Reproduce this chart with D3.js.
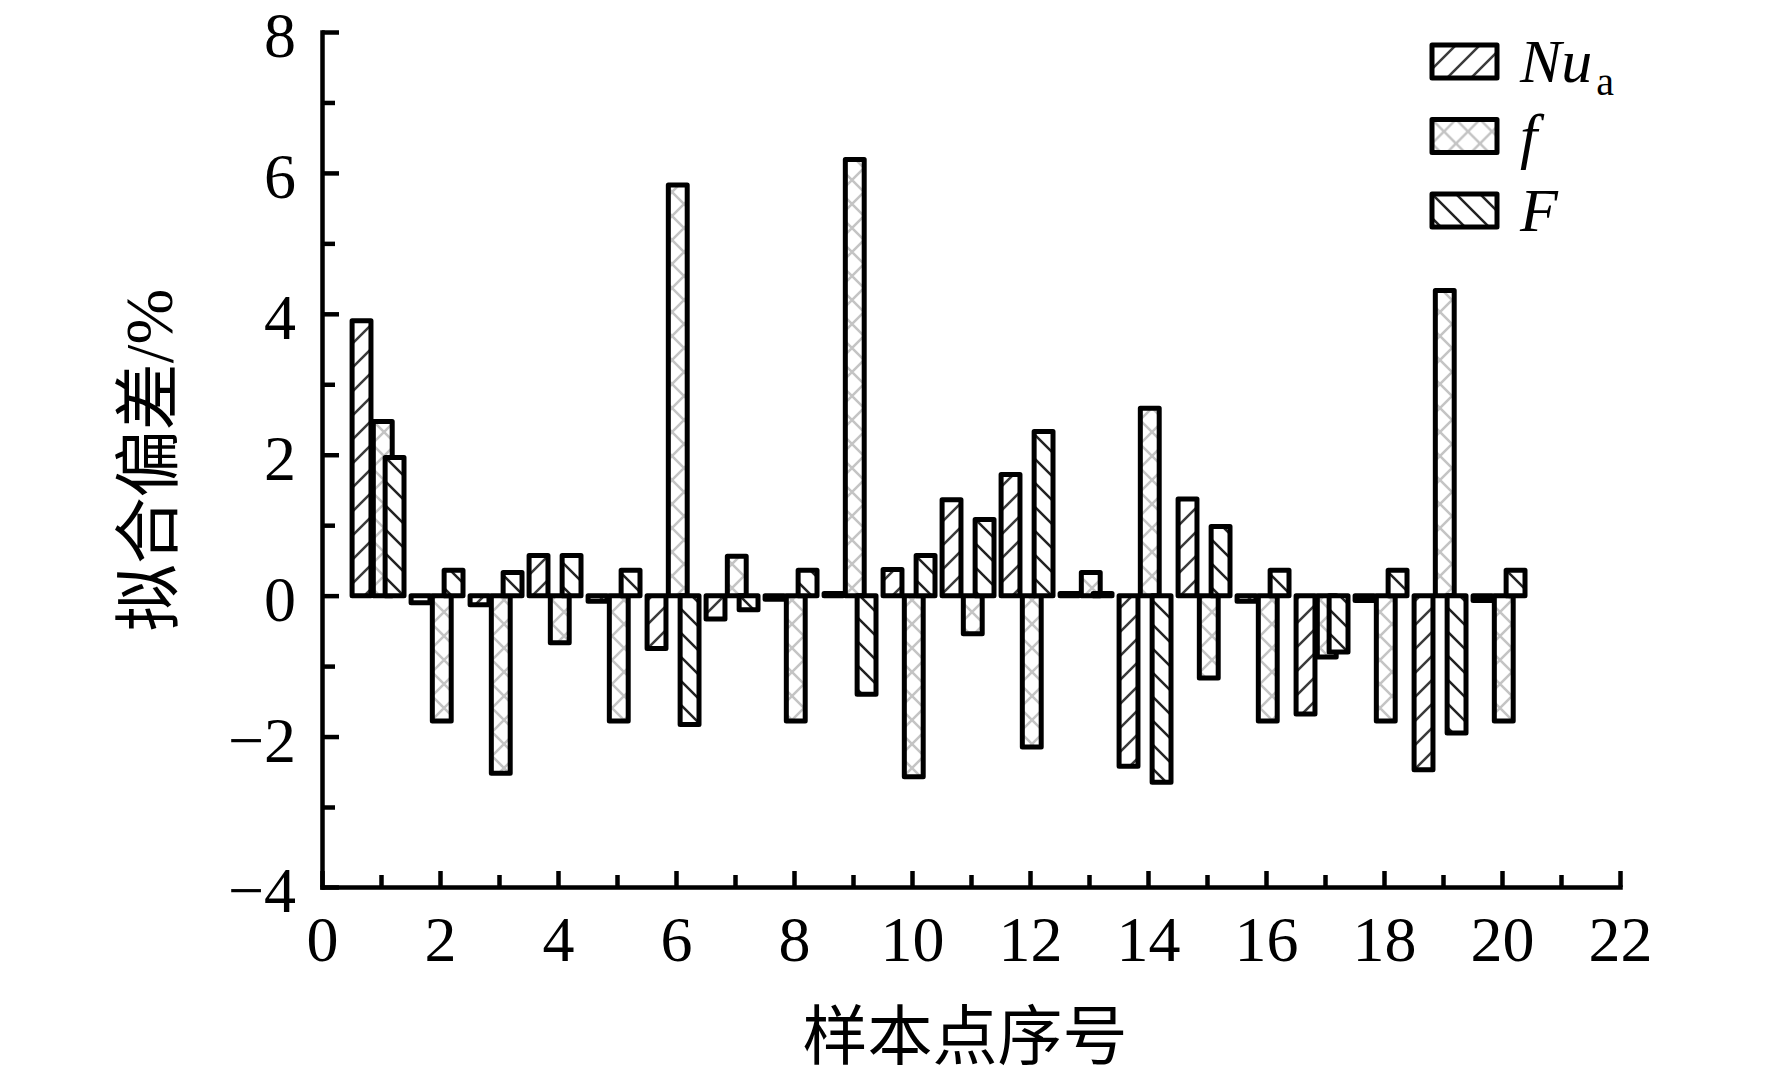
<!DOCTYPE html>
<html>
<head>
<meta charset="utf-8">
<script src="https://cdn.jsdelivr.net/npm/d3@7"></script>
<style>
  html, body { margin: 0; padding: 0; background: #fff; }
  svg text { font-family: "Liberation Serif", "Noto Sans CJK SC", serif; fill: #000; }
</style>
</head>
<body>
<div id="chart"></div>
<script>
// 样本点序号
const samples = [1, 2, 3, 4, 5, 6, 7, 8, 9, 10, 11, 12, 13, 14, 15, 16, 17, 18, 19, 20];

// 拟合偏差 (%)
const nuA = [3.9, -0.1, -0.13, 0.57, -0.08, -0.75, -0.33, -0.05, 0.03, 0.37,
             1.36, 1.72, 0.03, -2.42, 1.37, -0.08, -1.68, -0.07, -2.47, -0.07];
const fVals = [2.47, -1.78, -2.52, -0.67, -1.78, 5.83, 0.56, -1.78, 6.19, -2.57,
               -0.54, -2.15, 0.33, 2.66, -1.17, -1.78, -0.87, -1.78, 4.33, -1.78];
const FVals = [1.96, 0.36, 0.33, 0.57, 0.36, -1.83, -0.2, 0.36, -1.4, 0.57,
               1.08, 2.33, 0.03, -2.65, 0.98, 0.36, -0.8, 0.36, -1.95, 0.36];

const seriesNames = ['Nu', 'f', 'F'];

const xTicks = [0, 2, 4, 6, 8, 10, 12, 14, 16, 18, 20, 22];
const xMinor = [1, 3, 5, 7, 9, 11, 13, 15, 17, 19, 21];
const yTicks = [-4, -2, 0, 2, 4, 6, 8];
const yMinor = [-3, -1, 1, 3, 5, 7];

function drawChart() {
    const width = 1772, height = 1079;

    const svg = d3.select('#chart').append('svg')
        .attr('width', width)
        .attr('height', height);

    // motifs de hachures
    const defs = svg.append('defs');
    const hatch = (id, d, color, w, size) => {
        const p = defs.append('pattern')
            .attr('id', id)
            .attr('patternUnits', 'userSpaceOnUse')
            .attr('width', size).attr('height', size);
        p.append('rect').attr('width', size).attr('height', size).attr('fill', '#fff');
        p.append('path').attr('d', d).attr('stroke', color)
            .attr('stroke-width', w).attr('fill', 'none');
    };
    const s = 24;
    const fwd = `M${-s/4},${s/4}L${s/4},${-s/4}M0,${s}L${s},0M${s*3/4},${s*5/4}L${s*5/4},${s*3/4}`;
    const back = `M${-s/4},${s*3/4}L${s/4},${s*5/4}M0,0L${s},${s}M${s*3/4},${-s/4}L${s*5/4},${s/4}`;
    hatch('pat-nu', fwd, '#3a3a3a', 2.5, s);
    hatch('pat-f', fwd + back, '#c4c4c4', 2.5, s);
    hatch('pat-F', back, '#222', 2.5, s);
    const fills = ['url(#pat-nu)', 'url(#pat-f)', 'url(#pat-F)'];

    // échelles
    const x = d3.scaleLinear().domain([0, 22]).range([322, 1620]);
    // the drawn axis puts -4 a bit lower than the regular spacing
    const y = d3.scaleLinear().domain([-4, -3, 8]).range([887, 807, 32]);

    // barres (offset within a group, in x units)
    const offsets = [-0.33, 0.03, 0.23];
    const barW = x(0.32) - x(0);
    const allSeries = [nuA, fVals, FVals];

    allSeries.forEach((vals, si) => {
        svg.append('g')
            .selectAll('rect')
            .data(vals)
            .enter()
            .append('rect')
            .attr('x', (d, i) => x(samples[i] + offsets[si]) - barW / 2)
            .attr('y', d => Math.min(y(d), y(0)))
            .attr('width', barW)
            .attr('height', d => Math.abs(y(d) - y(0)))
            .attr('fill', fills[si])
            .attr('stroke', '#000')
            .attr('stroke-width', 5)
            .attr('stroke-linejoin', 'round');
    });

    // axes
    const fmt = d => (d < 0 ? '\u2212' + Math.abs(d) : String(d));

    const yAxis = svg.append('g')
        .attr('transform', `translate(${x(0)},0)`)
        .call(d3.axisLeft(y).tickValues(yTicks).tickSize(-17).tickSizeOuter(0).tickPadding(26).tickFormat(fmt));
    svg.append('g')
        .attr('transform', `translate(${x(0)},0)`)
        .call(d3.axisLeft(y).tickValues(yMinor).tickSize(-13).tickSizeOuter(0).tickFormat(''))
        .select('.domain').remove();

    const xAxis = svg.append('g')
        .attr('transform', `translate(0,${y(-4)})`)
        .call(d3.axisBottom(x).tickValues(xTicks).tickSize(-16).tickSizeOuter(0).tickPadding(26).tickFormat(fmt));
    svg.append('g')
        .attr('transform', `translate(0,${y(-4)})`)
        .call(d3.axisBottom(x).tickValues(xMinor).tickSize(-12).tickSizeOuter(0).tickFormat(''))
        .select('.domain').remove();

    svg.selectAll('.domain').attr('stroke', '#000').attr('stroke-width', 4.5).attr('stroke-linecap', 'square');
    svg.selectAll('.tick line').attr('stroke', '#000').attr('stroke-width', 4.5);
    svg.selectAll('.tick text')
        .attr('font-size', 64)
        .attr('font-family', '"Liberation Serif", serif')
        .attr('fill', '#000');
    yAxis.selectAll('.tick text').attr('dy', '0.39em');
    xAxis.selectAll('.tick text').attr('dy', '0.75em');

    // titres des axes
    svg.append('text')
        .attr('x', 965)
        .attr('y', 1037)
        .attr('text-anchor', 'middle')
        .attr('dominant-baseline', 'central')
        .attr('font-size', 65)
        .text('样本点序号');

    svg.append('text')
        .attr('transform', 'translate(149,460) rotate(-90)')
        .attr('text-anchor', 'middle')
        .attr('dominant-baseline', 'central')
        .attr('font-size', 67)
        .text('拟合偏差/%');

    // légende
    const legend = svg.append('g').attr('transform', 'translate(1432,45)');
    seriesNames.forEach((name, i) => {
        const g = legend.append('g').attr('transform', `translate(0,${i * 74.5})`);
        g.append('rect')
            .attr('width', 65).attr('height', 33)
            .attr('fill', fills[i])
            .attr('stroke', '#000').attr('stroke-width', 5)
            .attr('stroke-linejoin', 'round');
        const t = g.append('text')
            .attr('x', 88)
            .attr('y', 37)
            .attr('font-size', 62)
            .attr('font-style', 'italic')
            .text(name);
        if (name === 'Nu') {
            t.append('tspan')
                .attr('font-style', 'normal')
                .attr('font-size', 40)
                .attr('dx', 4)
                .attr('dy', 13)
                .text('a');
        }
    });
}

document.addEventListener('DOMContentLoaded', drawChart);
</script>
</body>
</html>
